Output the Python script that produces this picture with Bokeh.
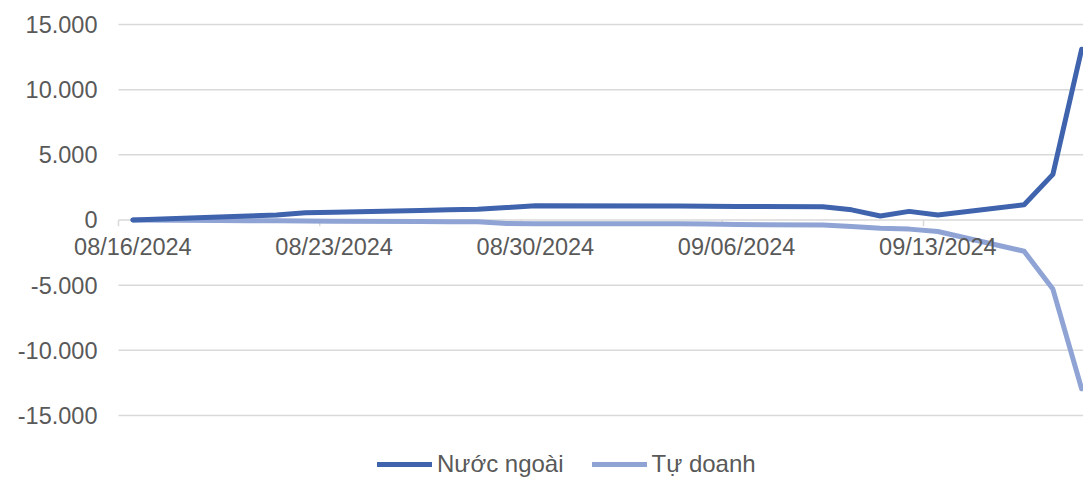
import pandas as pd
from bokeh.plotting import figure
from bokeh.models import Legend, LegendItem, ColumnDataSource, Range1d
from bokeh.core.properties import value
from bokeh.embed import file_html
from bokeh.resources import INLINE

# ---- data ----
dates = ["08/16/2024", "08/19/2024", "08/20/2024", "08/21/2024", "08/22/2024", "08/23/2024",
         "08/26/2024", "08/27/2024", "08/28/2024", "08/29/2024", "08/30/2024",
         "09/04/2024", "09/05/2024", "09/06/2024", "09/09/2024", "09/10/2024",
         "09/11/2024", "09/12/2024", "09/13/2024", "09/16/2024", "09/17/2024", "09/18/2024"]
nuoc_ngoai = [0, 230, 300, 380, 560, 600, 720, 780, 820, 950, 1100,
              1080, 1060, 1040, 1020, 780, 310, 660, 380, 1170, 3500, 13100]
tu_doanh = [0, -30, -50, -60, -80, -100, -120, -130, -130, -270, -280,
            -290, -300, -350, -380, -500, -640, -700, -880, -2400, -5300, -12950]
x_tick_labels = ["08/16/2024", "08/23/2024", "08/30/2024", "09/06/2024", "09/13/2024"]
y_ticks = [-15000, -10000, -5000, 0, 5000, 10000, 15000]
y_tick_labels = ["-15.000", "-10.000", "-5.000", "0", "5.000", "10.000", "15.000"]
series_names = ["Nước ngoài", "Tự doanh"]

# ---- convert dates to day offsets ----
d0 = pd.to_datetime(dates[0], format="%m/%d/%Y")
days = [(pd.to_datetime(d, format="%m/%d/%Y") - d0).days for d in dates]
tick_days = [(pd.to_datetime(d, format="%m/%d/%Y") - d0).days for d in x_tick_labels]
x_first = min(days) - 0.5
x_last = 33.065

src = ColumnDataSource(dict(x=days, a=nuoc_ngoai, b=tu_doanh))

FONT = "Liberation Sans"
TXT = "#595959"
GRID = "#D9D9D9"
C1 = "#3F63AD"
C2 = "#8FA4D5"

W, H = 1083, 481
p = figure(width=W, height=H, output_backend="svg", toolbar_location=None,
           x_range=Range1d(-4.604, x_last), y_range=Range1d(-20064, 16841),
           min_border_left=0, min_border_right=0, min_border_top=0, min_border_bottom=0)
p.xaxis.visible = False
p.yaxis.visible = False
p.xgrid.visible = False
p.ygrid.visible = False
p.outline_line_color = None
p.background_fill_color = "white"
p.border_fill_color = "white"

# grid lines
p.segment(x0=[x_first] * len(y_ticks), x1=[x_last + 1] * len(y_ticks), y0=y_ticks, y1=y_ticks,
          line_color=GRID, line_width=1.5)
# small tick marks on the zero axis (category boundaries)
tick_bounds = [t - 0.5 for t in tick_days]
p.segment(x0=tick_bounds, x1=tick_bounds, y0=[0] * len(tick_bounds), y1=[-480] * len(tick_bounds),
          line_color=GRID, line_width=1.5)

r2 = p.line("x", "b", source=src, line_color=C2, line_width=5, line_join="round", line_cap="round")
r1 = p.line("x", "a", source=src, line_color=C1, line_width=5, line_join="round", line_cap="round")

# axis labels
p.text(x=tick_days, y=[0] * len(tick_days), text=x_tick_labels, text_align="center",
       text_baseline="top", y_offset=14, text_font=value(FONT), text_font_size="23.5px",
       text_color=TXT)
p.text(x=[x_first] * len(y_ticks), y=y_ticks, text=y_tick_labels, text_align="right",
       text_baseline="middle", x_offset=-21, text_font=value(FONT), text_font_size="23.5px",
       text_color=TXT)

legend = Legend(items=[LegendItem(label=series_names[0], renderers=[r1]),
                       LegendItem(label=series_names[1], renderers=[r2])],
                orientation="horizontal", location=(377, 3),
                padding=0, margin=0, spacing=28, label_standoff=5,
                glyph_width=55, glyph_height=20, label_height=20,
                border_line_color=None, background_fill_alpha=0,
                label_text_font=FONT, label_text_font_size="24px", label_text_color=TXT)
p.add_layout(legend, "center")

open("out.html", "w").write(file_html(p, INLINE))
